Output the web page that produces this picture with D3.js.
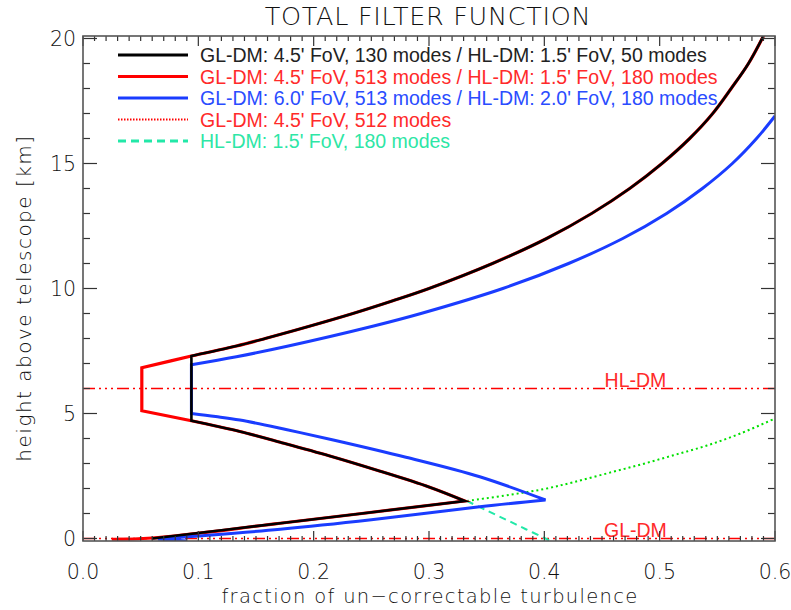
<!DOCTYPE html>
<html><head><meta charset="utf-8">
<script src="https://cdn.jsdelivr.net/npm/d3@7"></script>
<style>
body{margin:0;background:#fff;}
svg{display:block;}
.thin{font-family:"DejaVu Sans ExtraLight","DejaVu Sans",sans-serif;font-weight:200;}
.leg{font-family:"Liberation Sans",Arial,sans-serif;}
</style></head>
<body><svg id="c" width="791" height="610"></svg>
<script>
// ---- data ----
const title = "TOTAL FILTER FUNCTION";
const xLabel = "fraction of un\u2212correctable turbulence";
const yLabel = "height above telescope [km]";
const xTicks = [0.0, 0.1, 0.2, 0.3, 0.4, 0.5, 0.6];
const yTicks = [0, 5, 10, 15, 20];

const blackFrac   = [0.060, 0.171, 0.331, 0.300, 0.257, 0.214, 0.171, 0.136, 0.115, 0.094, 0.094, 0.133, 0.158, 0.197, 0.234, 0.268, 0.300, 0.355, 0.402, 0.441, 0.474, 0.502, 0.526, 0.546, 0.562, 0.577, 0.590];
const blackHeight = [0.00, 0.61, 1.50, 2.06, 2.70, 3.30, 3.85, 4.28, 4.50, 4.71, 7.30, 7.70, 8.00, 8.50, 9.00, 9.50, 10.0, 11.0, 12.0, 13.0, 14.0, 15.0, 16.0, 17.0, 18.0, 19.0, 20.1];

const redFrac   = [0.025, 0.060, 0.171, 0.331, 0.300, 0.257, 0.214, 0.171, 0.136, 0.115, 0.094, 0.051, 0.051, 0.094, 0.133, 0.158, 0.197, 0.234, 0.268, 0.300, 0.355, 0.402, 0.441, 0.474, 0.502, 0.526, 0.546, 0.562, 0.577, 0.590];
const redHeight = [-0.03, 0.02, 0.61, 1.50, 2.06, 2.70, 3.30, 3.85, 4.28, 4.50, 4.71, 5.11, 6.83, 7.30, 7.70, 8.00, 8.50, 9.00, 9.50, 10.0, 11.0, 12.0, 13.0, 14.0, 15.0, 16.0, 17.0, 18.0, 19.0, 20.1];

const blueFrac   = [0.090, 0.065, 0.100, 0.171, 0.250, 0.344, 0.401, 0.344, 0.280, 0.217, 0.176, 0.136, 0.115, 0.094, 0.094, 0.133, 0.178, 0.252, 0.293, 0.364, 0.421, 0.468, 0.506, 0.537, 0.563, 0.584, 0.600];
const blueHeight = [-0.10, -0.02, 0.10, 0.37, 0.75, 1.27, 1.54, 2.47, 3.25, 3.94, 4.36, 4.74, 4.88, 5.00, 6.95, 7.27, 7.70, 8.50, 9.00, 10.0, 11.0, 12.0, 13.0, 14.0, 15.0, 16.0, 16.9];

const glOnlyFrac   = [0.333, 0.370, 0.400, 0.425, 0.454, 0.483, 0.512, 0.541, 0.570, 0.600];
const glOnlyHeight = [1.50, 1.75, 1.98, 2.25, 2.60, 2.95, 3.33, 3.72, 4.20, 4.80];

const hlOnlyFrac   = [0.333, 0.350, 0.367, 0.384, 0.401, 0.406];
const hlOnlyHeight = [1.50, 1.12, 0.75, 0.37, 0.00, -0.12];

const dmHeights = [0, 6];
const dmNames = ["GL-DM", "HL-DM"];

const legendLabels = [
  "GL-DM: 4.5' FoV, 130 modes / HL-DM: 1.5' FoV, 50 modes",
  "GL-DM: 4.5' FoV, 513 modes / HL-DM: 1.5' FoV, 180 modes",
  "GL-DM: 6.0' FoV, 513 modes / HL-DM: 2.0' FoV, 180 modes",
  "GL-DM: 4.5' FoV, 512 modes",
  "HL-DM: 1.5' FoV, 180 modes"
];

// ---- styles ----
const C = {black:"#000000", red:"#ff0000", blue:"#1a3cff", green:"#00e000", cyan:"#22e8a8",
           redText:"#ff2a2a", blueText:"#2a4cff", cyanText:"#2ee6a6", blackText:"#222222"};

const svg = d3.select("#c");
const W = 791, H = 610;
const L = 83, R = 775, T = 36, B = 541;
const x = d3.scaleLinear().domain([0, 0.6]).range([L, R]);
const y = d3.scaleLinear().domain([-0.1, 20.1]).range([B, T]);

svg.append("rect").attr("width", W).attr("height", H).attr("fill", "#fff");

svg.append("defs").append("clipPath").attr("id", "clip")
  .append("rect").attr("x", L).attr("y", T).attr("width", R - L).attr("height", B - T);

const plot = svg.append("g").attr("clip-path", "url(#clip)");

// DM conjugate lines
const dashDot3 = "12,4,2,4,2,4,2,4";
dmHeights.forEach((h, i) => {
  plot.append("line").attr("x1", L).attr("x2", R).attr("y1", y(h)).attr("y2", y(h))
    .attr("stroke", C.red).attr("stroke-width", 1.5).attr("stroke-dasharray", dashDot3);
  svg.append("text").attr("x", x(0.479)).attr("y", y(h) - 1.5).attr("text-anchor", "middle")
    .attr("class", "leg").attr("font-size", 19.5).attr("fill", C.redText).text(dmNames[i]);
});

const zipped = (a, b) => a.map((v, i) => [v, b[i]]);
const smooth = d3.line().x(d => x(d[0])).y(d => y(d[1])).curve(d3.curveCatmullRom.alpha(0.5));

// smooth within each branch, keep sharp corners where the direction in x turns
function branchPath(frac, height) {
  const pts = zipped(frac, height);
  const sgn = v => Math.abs(v) < 1e-9 ? 0 : Math.sign(v);
  const cuts = [0];
  for (let i = 1; i < pts.length - 1; i++) {
    if (sgn(pts[i][0] - pts[i - 1][0]) !== sgn(pts[i + 1][0] - pts[i][0])) cuts.push(i);
  }
  cuts.push(pts.length - 1);
  let d = "";
  for (let k = 0; k < cuts.length - 1; k++) {
    const seg = smooth(pts.slice(cuts[k], cuts[k + 1] + 1));
    d += k === 0 ? seg : "L" + seg.slice(1);
  }
  return d;
}

plot.append("path").attr("d", smooth(zipped(glOnlyFrac, glOnlyHeight)))
  .attr("fill", "none").attr("stroke", C.green).attr("stroke-width", 2).attr("stroke-dasharray", "2,3");
plot.append("path").attr("d", smooth(zipped(hlOnlyFrac, hlOnlyHeight)))
  .attr("fill", "none").attr("stroke", C.cyan).attr("stroke-width", 2).attr("stroke-dasharray", "7,5");
plot.append("path").attr("d", branchPath(redFrac, redHeight))
  .attr("fill", "none").attr("stroke", C.red).attr("stroke-width", 3.2).attr("stroke-linejoin", "miter");
plot.append("path").attr("d", branchPath(blueFrac, blueHeight))
  .attr("fill", "none").attr("stroke", C.blue).attr("stroke-width", 3).attr("stroke-linejoin", "miter");
plot.append("path").attr("d", branchPath(blackFrac, blackHeight))
  .attr("fill", "none").attr("stroke", C.black).attr("stroke-width", 2.6).attr("stroke-linejoin", "miter");

// axes: frame + ticks on four sides
const axColor = "#333";
const xMinor = d3.range(0, 61).map(i => i / 100);
const yMinor = d3.range(0, 21);
const ax = svg.append("g").attr("stroke", axColor).attr("stroke-width", 1.2);
xMinor.forEach(v => {
  const major = xTicks.some(t => Math.abs(t - v) < 1e-9);
  const len = major ? 10 : 5;
  ax.append("line").attr("x1", x(v)).attr("x2", x(v)).attr("y1", B).attr("y2", B - len);
  ax.append("line").attr("x1", x(v)).attr("x2", x(v)).attr("y1", T).attr("y2", T + len);
});
yMinor.forEach(v => {
  const major = yTicks.includes(v);
  const len = major ? 14 : 7;
  ax.append("line").attr("x1", L).attr("x2", L + len).attr("y1", y(v)).attr("y2", y(v));
  ax.append("line").attr("x1", R).attr("x2", R - len).attr("y1", y(v)).attr("y2", y(v));
});
svg.append("rect").attr("x", L).attr("y", T).attr("width", R - L).attr("height", B - T)
  .attr("fill", "none").attr("stroke", "#555").attr("stroke-width", 1.6);

// tick labels
svg.selectAll(".xt").data(xTicks).enter().append("text").attr("class", "thin")
  .attr("x", d => x(d)).attr("y", 579).attr("text-anchor", "middle").attr("font-size", 20.5)
  .attr("fill", "#111").text(d => d3.format(".1f")(d));
svg.selectAll(".yt").data(yTicks).enter().append("text").attr("class", "thin")
  .attr("x", 76).attr("y", d => y(d) + 7.5).attr("text-anchor", "end").attr("font-size", 20.5)
  .attr("fill", "#111").text(d => d);

// axis titles and title
svg.append("text").attr("class", "thin").attr("x", (L + R) / 2 + 1).attr("y", 603)
  .attr("text-anchor", "middle").attr("font-size", 19.5).attr("letter-spacing", 1.3)
  .attr("fill", "#111").text(xLabel);
svg.append("text").attr("class", "thin")
  .attr("transform", `translate(31,298) rotate(-90)`)
  .attr("text-anchor", "middle").attr("font-size", 20).attr("letter-spacing", 1.5)
  .attr("fill", "#111").text(yLabel);
svg.append("text").attr("class", "thin").attr("x", 428).attr("y", 25)
  .attr("text-anchor", "middle").attr("font-size", 25.5).attr("letter-spacing", 0.7)
  .attr("fill", "#111").text(title);

// legend
const legStroke = [C.black, C.red, C.blue, C.red, C.cyan];
const legDash = [null, null, null, "1.5,1.5", "8,5"];
const legWidth = [3, 3, 3, 2, 3];
const legText = [C.blackText, C.redText, C.blueText, C.redText, C.cyanText];
legendLabels.forEach((t, i) => {
  const yy = 55 + i * 21.5;
  const ln = svg.append("line").attr("x1", 118).attr("x2", 188).attr("y1", yy).attr("y2", yy)
    .attr("stroke", legStroke[i]).attr("stroke-width", legWidth[i]);
  if (legDash[i]) ln.attr("stroke-dasharray", legDash[i]);
  svg.append("text").attr("class", "leg").attr("x", 200).attr("y", yy + 7)
    .attr("font-size", 19.5).attr("fill", legText[i]).text(t);
});
</script></body></html>
